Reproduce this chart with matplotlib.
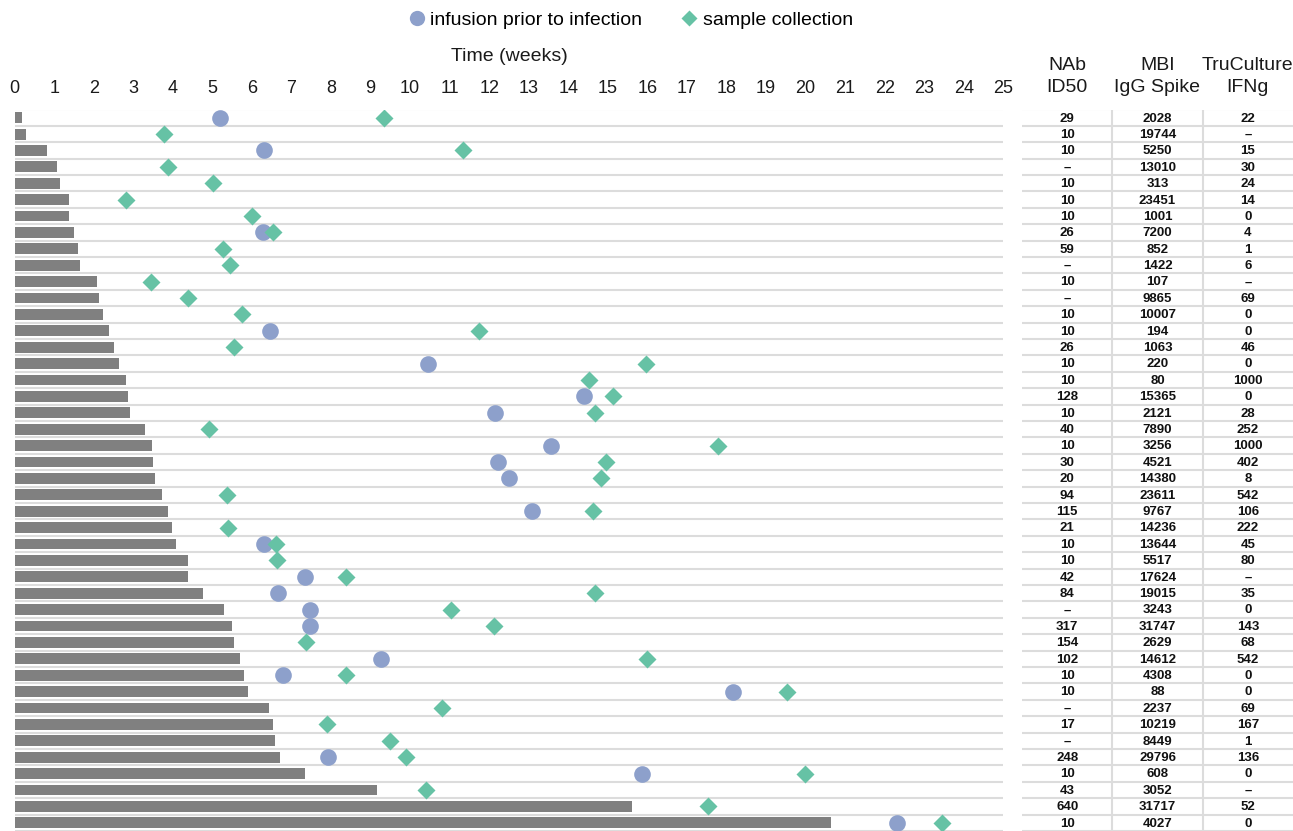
import numpy as np
import matplotlib
matplotlib.use("Agg")
import matplotlib.pyplot as plt
from matplotlib.lines import Line2D

plt.rcParams['font.family'] = ['Liberation Sans', 'DejaVu Sans']

# ---------------- data ----------------
# bar length (weeks) per patient, top to bottom
duration = [0.19, 0.29, 0.82, 1.06, 1.15, 1.37, 1.37, 1.50, 1.60, 1.64,
            2.07, 2.14, 2.23, 2.38, 2.51, 2.63, 2.81, 2.87, 2.91, 3.30,
            3.46, 3.50, 3.56, 3.73, 3.88, 3.99, 4.07, 4.38, 4.38, 4.77,
            5.30, 5.50, 5.54, 5.70, 5.80, 5.90, 6.43, 6.53, 6.57, 6.71,
            7.34, 9.15, 15.60, 20.64]
nan = np.nan
# infusion prior to infection (weeks)
infusion = [5.19, nan, 6.30, nan, nan, nan, nan, 6.29, nan, nan,
            nan, nan, nan, 6.45, nan, 10.46, nan, 14.40, 12.15, nan,
            13.57, 12.21, 12.50, nan, 13.09, nan, 6.30, nan, 7.33, 6.66,
            7.47, 7.47, nan, 9.27, 6.79, 18.17, nan, nan, nan, 7.93,
            15.87, nan, nan, 22.31]
# sample collection (weeks)
sample = [9.34, 3.77, 11.34, 3.87, 5.01, 2.81, 6.00, 6.52, 5.27, 5.44,
          3.45, 4.38, 5.74, 11.74, 5.54, 15.97, 14.53, 15.14, 14.67, 4.92,
          17.79, 14.96, 14.83, 5.36, 14.63, 5.40, 6.62, 6.63, 8.39, 14.68,
          11.03, 12.13, 7.36, 15.99, 8.37, 19.54, 10.81, 7.90, 9.50, 9.90,
          19.98, 10.39, 17.54, 23.44]

nab = ["29", "10", "10", "–", "10", "10", "10", "26", "59", "–",
       "10", "–", "10", "10", "26", "10", "10", "128", "10", "40",
       "10", "30", "20", "94", "115", "21", "10", "10", "42", "84",
       "–", "317", "154", "102", "10", "10", "–", "17", "–", "248",
       "10", "43", "640", "10"]
igg = ["2028", "19744", "5250", "13010", "313", "23451", "1001", "7200", "852", "1422",
       "107", "9865", "10007", "194", "1063", "220", "80", "15365", "2121", "7890",
       "3256", "4521", "14380", "23611", "9767", "14236", "13644", "5517", "17624", "19015",
       "3243", "31747", "2629", "14612", "4308", "88", "2237", "10219", "8449", "29796",
       "608", "3052", "31717", "4027"]
ifng = ["22", "–", "15", "30", "24", "14", "0", "4", "1", "6",
        "–", "69", "0", "0", "46", "0", "1000", "0", "28", "252",
        "1000", "402", "8", "542", "106", "222", "45", "80", "–", "35",
        "0", "143", "68", "542", "0", "0", "69", "167", "1", "136",
        "0", "–", "52", "0"]
table_headers = ["NAb\nID50", "MBI\nIgG Spike", "TruCulture\nIFNg"]
xticks = list(range(0, 26))

# ---------------- styles ----------------
W, H = 1293, 831
BAR_C = "#808080"
INF_C = "#8da0cb"
SAM_C = "#66c2a5"
GRID_C = "#dcdcdc"

fig = plt.figure(figsize=(W / 100, H / 100), dpi=100)

top_px = 109.5
ax = fig.add_axes([14.7 / W, 0, (1003.3 - 14.7) / W, (H - top_px) / H])
n = len(duration)
rows = np.arange(n)

ax.set_xlim(0, 25)
ax.set_ylim(n - 0.5, -0.5)
for b in np.arange(-0.5, n, 1.0):
    ax.axhline(b, color=GRID_C, lw=1.5, zorder=1)

ax.barh(rows, duration, height=0.66, color=BAR_C, zorder=2)
ax.plot(infusion, rows, 'o', ms=12, color=INF_C, mec='none', zorder=3)
ax.plot(sample, rows, 'D', ms=9, color=SAM_C, mec='none', zorder=4)

ax.xaxis.tick_top()
ax.set_xticks(xticks)
ax.set_xticklabels([str(t) for t in xticks])
ax.tick_params(axis='x', length=0, pad=9, labelsize=13, colors='#1a1a1a')
ax.set_yticks([])
ax.xaxis.set_label_position('top')
ax.set_xlabel("Time (weeks)", fontsize=14, labelpad=14, color='#1a1a1a')
for s in ax.spines.values():
    s.set_visible(False)

# ---------------- table ----------------
tx0 = 1022
ax2 = fig.add_axes([tx0 / W, 0, (W - tx0) / W, (H - top_px) / H])
ax2.set_xlim(0, 3)
ax2.set_ylim(n - 0.5, -0.5)
ax2.axis('off')
for b in np.arange(-0.5, n, 1.0):
    ax2.axhline(b, color=GRID_C, lw=1.5, zorder=1)
for v in [1, 2]:
    ax2.axvline(v, color=GRID_C, lw=1.5, zorder=1)
for j, col in enumerate([nab, igg, ifng]):
    for i, val in enumerate(col):
        ax2.text(j + 0.5, i + 0.05, val, ha='center', va='center',
                 fontsize=9.5, fontweight='bold', color='#111111')
    ax2.text(j + 0.5, -2.5, table_headers[j], ha='center', va='center',
             fontsize=14, linespacing=1.4, color='#1a1a1a', clip_on=False)

# ---------------- legend ----------------
handles = [Line2D([], [], ls='none', marker='o', ms=11, color=INF_C, mec='none'),
           Line2D([], [], ls='none', marker='D', ms=8.5, color=SAM_C, mec='none')]
fig.legend(handles, ["infusion prior to infection", "sample collection"],
           loc='center', bbox_to_anchor=(631 / W, 1 - 20 / H), ncol=2,
           frameon=False, fontsize=14, handlelength=0.8, handletextpad=0.3,
           columnspacing=2.0, borderpad=0)

fig.savefig("out.png", dpi=100)
